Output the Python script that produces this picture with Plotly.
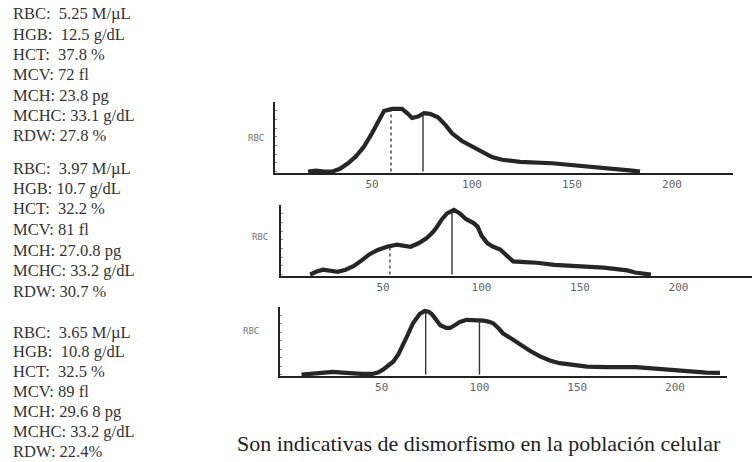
import numpy as np
import plotly.graph_objects as go

W, H = 752, 462

# ---------- data ----------
tick_vals = [50, 100, 150, 200]
tick_text = ["50", "100", "150", "200"]

p1_x = [18, 22, 26, 30, 34, 38, 42, 46, 50, 53, 56, 60, 65, 68, 70, 73, 76, 79, 83, 87, 90, 95, 100, 105,
        110, 115, 124, 140, 157, 165, 174, 180, 184]
p1_y = [0, 1.5, 0, 0, 4, 12, 22, 36, 55, 72, 87, 90, 90, 83, 77, 79, 84, 83, 78, 66, 55, 44, 36, 28,
        21, 17, 14, 12, 8, 5, 3, 1.5, 0]
p1_dashed = [59.5]
p1_solid = [75.5]

p2_x = [13, 16, 19.5, 23, 27, 31, 35, 39, 43, 47, 52, 57, 61, 64, 68, 72, 75, 77, 80, 82.5, 86, 89, 92,
        96, 98, 100, 103, 106, 109.5, 113, 116, 122, 128, 137, 145, 155, 162, 168, 174, 178, 182, 186]
p2_y = [0, 4, 7, 6, 4, 7, 12, 20, 29, 35, 40, 43, 42, 40, 45, 52, 60, 67, 80, 88, 93, 88, 80,
        74, 69, 56, 45, 40, 36, 27, 19, 18, 17, 14, 12, 11, 10, 8, 6, 3, 1, 0]
p2_dashed = [53.5]
p2_solid = [85]

p3_x = [9, 14, 18, 25, 30, 35, 40, 45, 48, 50.5, 53, 56, 58.5, 61, 63.5, 66, 68, 69.5, 72, 74, 75.5, 78,
        80, 83, 85, 88, 90, 93.5, 98, 102, 105, 107, 110, 112, 117, 121, 126, 131, 136, 141, 148, 155,
        165, 180, 190, 197, 203, 209, 216, 223]
p3_y = [0, 1.5, 2.5, 4, 3, 1.5, 1, 1, 3, 7, 12, 19.5, 30, 44, 60, 76, 85, 90, 94, 93, 90, 80,
        73, 69, 69, 74, 78, 81, 81, 80, 78, 76, 68, 61, 52, 44, 35, 27, 21, 17, 14, 12,
        11, 11, 9, 7, 5.5, 4, 3, 2.5]
p3_dashed = []
p3_solid = [72.5, 100]

axis_label = "RBC"

block1 = ["RBC:  5.25 M/µL", "HGB:  12.5 g/dL", "HCT:  37.8 %", "MCV: 72 fl",
          "MCH: 23.8 pg", "MCHC: 33.1 g/dL", "RDW: 27.8 %"]
block2 = ["RBC:  3.97 M/µL", "HGB: 10.7 g/dL", "HCT:  32.2 %", "MCV: 81 fl",
          "MCH: 27.0.8 pg", "MCHC: 33.2 g/dL", "RDW: 30.7 %"]
block3 = ["RBC:  3.65 M/µL", "HGB:  10.8 g/dL", "HCT:  32.5 %", "MCV: 89 fl",
          "MCH: 29.6 8 pg", "MCHC: 33.2 g/dL", "RDW: 22.4%"]

caption = "Son indicativas de dismorfismo en la población celular"

# ---------- layout geometry (pixels) ----------
panels = [
    dict(x=p1_x, y=p1_y, dashed=p1_dashed, solid=p1_solid,
         px=(275, 733), py=(102, 173), xr=(1.5, 230.5), lab=(246, 131)),
    dict(x=p2_x, y=p2_y, dashed=p2_dashed, solid=p2_solid,
         px=(281, 752), py=(205, 276), xr=(-1.8, 237.3), lab=(250, 237)),
    dict(x=p3_x, y=p3_y, dashed=p3_dashed, solid=p3_solid,
         px=(280, 727), py=(307, 376), xr=(-2.0, 226.6), lab=(251, 338)),
]

fig = go.Figure()
ink = "#262626"
annotations = []

for i, p in enumerate(panels, start=1):
    xa = "x" if i == 1 else f"x{i}"
    ya = "y" if i == 1 else f"y{i}"
    fig.add_trace(go.Scatter(x=p["x"], y=p["y"], mode="lines", xaxis=xa, yaxis=ya,
                             line=dict(color=ink, width=4.2), showlegend=False, hoverinfo="skip"))
    for v in p["dashed"]:
        h = float(np.interp(v, p["x"], p["y"]))
        fig.add_trace(go.Scatter(x=[v, v], y=[0, h], mode="lines", xaxis=xa, yaxis=ya,
                                 line=dict(color="#333", width=1.3, dash="dot"),
                                 showlegend=False, hoverinfo="skip"))
    for v in p["solid"]:
        h = float(np.interp(v, p["x"], p["y"]))
        fig.add_trace(go.Scatter(x=[v, v], y=[0, h], mode="lines", xaxis=xa, yaxis=ya,
                                 line=dict(color="#333", width=1.4),
                                 showlegend=False, hoverinfo="skip"))
    xkey = "xaxis" if i == 1 else f"xaxis{i}"
    ykey = "yaxis" if i == 1 else f"yaxis{i}"
    fig.update_layout(**{
        xkey: dict(domain=[p["px"][0] / W, min(p["px"][1] / W, 1)], range=list(p["xr"]),
                   anchor=ya, showgrid=False, zeroline=False, showline=True,
                   linecolor="#222", linewidth=1.6, ticks="",
                   tickvals=tick_vals, ticktext=tick_text,
                   tickfont=dict(family="DejaVu Sans Mono", size=11, color="#666")),
        ykey: dict(domain=[1 - p["py"][1] / H, 1 - p["py"][0] / H], range=[-2, 100],
                   anchor=xa, showgrid=False, zeroline=False, showline=True,
                   linecolor="#222", linewidth=1.6, showticklabels=False,
                   ticks="inside", ticklen=2, tickcolor="#888", dtick=12.5),
    })
    annotations.append(dict(text=axis_label, x=p["lab"][0] / W, y=1 - p["lab"][1] / H,
                            xref="paper", yref="paper", showarrow=False,
                            font=dict(family="DejaVu Sans Mono", size=9, color="#777")))

def add_block(lines, y0, step):
    for k, t in enumerate(lines):
        annotations.append(dict(text=t.replace("  ", "\u00a0\u00a0"), x=11 / W,
                                y=1 - (y0 + k * step) / H, xref="paper", yref="paper",
                                xanchor="left", yanchor="middle", showarrow=False,
                                font=dict(family="Liberation Serif", size=16.5, color="#333")))

add_block(block1, 14, 20.3)
add_block(block2, 168, 20.5)
add_block(block3, 332, 19.9)

annotations.append(dict(text=caption, x=235 / W, y=1 - 443 / H, xref="paper", yref="paper",
                        xanchor="left", yanchor="middle", showarrow=False,
                        font=dict(family="Liberation Serif", size=22, color="#222")))

fig.update_layout(width=W, height=H, margin=dict(l=0, r=0, t=0, b=0),
                  paper_bgcolor="white", plot_bgcolor="rgba(0,0,0,0)",
                  annotations=annotations)

fig.write_html("out.html", config={"displayModeBar": False},
               post_script="document.body.style.margin='0px';")
